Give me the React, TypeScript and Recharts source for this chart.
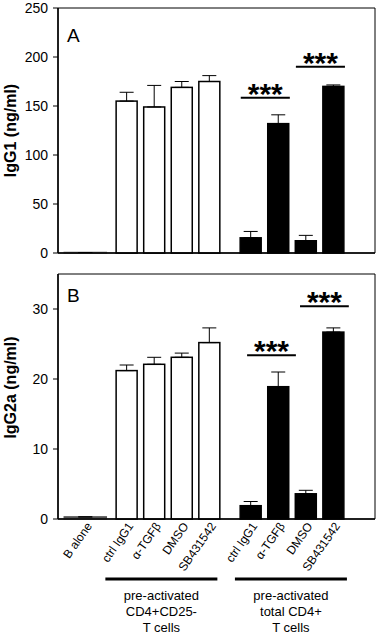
import React from 'react';
import {
  BarChart,
  Bar,
  XAxis,
  YAxis,
  Cell,
  ErrorBar,
  ReferenceArea,
  ReferenceLine,
  ReferenceDot,
  Label,
} from 'recharts';

const FONT = '"Liberation Sans", Arial, sans-serif';

/** categorías y su posición en el eje (con huecos entre grupos) */
const categories = ['B alone', 'ctrl IgG1', 'α-TGFβ', 'DMSO', 'SB431542', 'ctrl IgG1', 'α-TGFβ', 'DMSO', 'SB431542'];
const slots = [0, 1.5, 2.5, 3.5, 4.5, 6, 7, 8, 9];
const groupOf = ['b', 'w', 'w', 'w', 'w', 'k', 'k', 'k', 'k'];

/** valores */
const igg1 = [0.5, 155, 149, 169, 175, 15.5, 132, 12.5, 170];
const igg1Err = [0, 9, 22, 6, 6, 6.5, 9, 5.5, 1.5];
const igg2a = [0.3, 21.2, 22.1, 23.1, 25.2, 1.9, 18.9, 3.6, 26.7];
const igg2aErr = [0, 0.8, 1.0, 0.6, 2.1, 0.6, 2.1, 0.5, 0.6];

const igg1Ticks = [0, 50, 100, 150, 200, 250];
const igg2aTicks = [0, 10, 20, 30];

/** grupos bajo el eje */
const groupCenters = [2.75, 7.45];
const groupLines = [
  ['pre-activated', 'CD4+CD25-', 'T cells'],
  ['pre-activated', 'total CD4+', 'T cells'],
];

/** barras de significancia: [desde, hasta, altura] */
const sigA = [
  [5.63, 7.41, 158.5],
  [7.63, 9.41, 190],
];
const sigB = [
  [5.86, 7.63, 23.4],
  [7.78, 9.55, 30.4],
];

const DOMAIN: [number, number] = [-1, 10.5];

const makeRows = (vals: number[], errs: number[]) =>
  vals.map((v, i) => ({ slot: slots[i], name: categories[i], value: v, err: [0, errs[i]] }));

const rowsA = makeRows(igg1, igg1Err);
const rowsB = makeRows(igg2a, igg2aErr);

const fillFor = (g: string) => (g === 'k' ? '#000' : g === 'w' ? '#fff' : '#555');
const strokeFor = (g: string) => (g === 'b' ? '#555' : '#000');

const BarShape = (p: any) => {
  const w = p.index === 0 ? p.width * 2 : p.width;
  const x = p.x + p.width / 2 - w / 2;
  return (
    <rect
      x={x}
      y={p.y}
      width={w}
      height={Math.max(p.height, 0.5)}
      fill={p.fill}
      stroke={p.stroke}
      strokeWidth={1.5}
    />
  );
};

/** etiqueta girada bajo cada barra */
const slotLabel = (text: string) => (p: any) => {
  const tx = p.cx + 7;
  const ty = p.cy + 7;
  return (
    <text
      x={tx}
      y={ty}
      textAnchor="end"
      fontSize={12}
      fontFamily={FONT}
      fill="#000"
      transform={`rotate(-55, ${tx}, ${ty})`}
    >
      {text}
    </text>
  );
};

const GroupTick = (props: any) => {
  const { x, y, index } = props;
  const lines = groupLines[index] ?? [];
  return (
    <g>
      <line x1={x - 56} x2={x + 56} y1={y + 2} y2={y + 2} stroke="#000" strokeWidth={3} />
      {lines.map((t, k) => (
        <text key={k} x={x} y={y + 23 + k * 16} textAnchor="middle" fontSize={13} fontFamily={FONT} fill="#000">
          {t}
        </text>
      ))}
    </g>
  );
};

const Stars = (p: any) => (
  <text x={p.cx} y={p.cy + 6} textAnchor="middle" fontSize={30} fontWeight="bold" fontFamily={FONT} fill="#000">
    ***
  </text>
);

const yLabel = (text: string, shift: number) => (props: any) => {
  const vb = props.viewBox;
  const cy = vb.y + vb.height / 2 + shift;
  return (
    <text
      x={16}
      y={cy}
      textAnchor="middle"
      fontSize={16}
      fontWeight="bold"
      fontFamily={FONT}
      fill="#000"
      transform={`rotate(-90, 16, ${cy})`}
    >
      {text}
    </text>
  );
};

const panelLetter = (letter: string, dy: number) => (props: any) => {
  const vb = props.viewBox;
  return (
    <text x={vb.x + 9} y={vb.y + dy} fontSize={19} fontFamily={FONT} fill="#000">
      {letter}
    </text>
  );
};

const tickStyle = { fontSize: 14, fontFamily: FONT, fill: '#000' };

export default function App() {
  return (
    <div style={{ position: 'absolute', left: 0, top: 0, width: 378, height: 634, background: '#fff' }}>
      <div style={{ position: 'absolute', left: 0, top: 0 }}>
        <BarChart width={378} height={262} data={rowsA} margin={{ top: 8, right: 3, bottom: 8, left: 0 }}>
          <XAxis
            type="number"
            dataKey="slot"
            domain={DOMAIN}
            allowDataOverflow
            ticks={slots}
            tick={false}
            tickLine={false}
            height={1}
            axisLine={{ stroke: '#000', strokeWidth: 1.5 }}
          />
          <YAxis
            width={58}
            domain={[0, 250]}
            ticks={igg1Ticks}
            interval={0}
            tick={tickStyle}
            tickSize={5}
            tickMargin={5}
            tickLine={{ stroke: '#000' }}
            axisLine={{ stroke: '#000', strokeWidth: 1.5 }}
            label={{ content: yLabel('IgG1 (ng/ml)', 0) }}
          />
          <ReferenceArea x1={DOMAIN[0]} x2={DOMAIN[1]} y1={0} y2={250} fill="none" stroke="#000" strokeWidth={1}>
            <Label content={panelLetter('A', 34)} />
          </ReferenceArea>
          <Bar dataKey="value" barSize={21} shape={BarShape} isAnimationActive={false}>
            {rowsA.map((_, i) => (
              <Cell key={i} fill={fillFor(groupOf[i])} stroke={strokeFor(groupOf[i])} />
            ))}
            <ErrorBar dataKey="err" width={7} stroke="#000" strokeWidth={1} direction="y" />
          </Bar>
          {sigA.map(([a, b, v], i) => (
            <ReferenceLine key={`l${i}`} segment={[{ x: a, y: v }, { x: b, y: v }]} stroke="#000" strokeWidth={2} />
          ))}
          {sigA.map(([a, b, v], i) => (
            <ReferenceDot key={`d${i}`} x={(a + b) / 2} y={v} shape={Stars} />
          ))}
        </BarChart>
      </div>
      <div style={{ position: 'absolute', left: 0, top: 260 }}>
        <BarChart width={378} height={374} data={rowsB} margin={{ top: 14, right: 3, bottom: 0, left: 0 }}>
          <XAxis
            type="number"
            dataKey="slot"
            domain={DOMAIN}
            allowDataOverflow
            ticks={slots}
            tick={false}
            tickLine={false}
            height={58}
            axisLine={{ stroke: '#000', strokeWidth: 1.5 }}
          />
          <XAxis
            xAxisId="grp"
            type="number"
            dataKey="slot"
            domain={DOMAIN}
            allowDataOverflow
            ticks={groupCenters}
            interval={0}
            tick={GroupTick}
            tickLine={false}
            tickSize={0}
            tickMargin={0}
            axisLine={false}
            height={57}
          />
          <YAxis
            width={58}
            domain={[0, 35]}
            ticks={igg2aTicks}
            interval={0}
            tick={tickStyle}
            tickSize={5}
            tickMargin={5}
            tickLine={{ stroke: '#000' }}
            axisLine={{ stroke: '#000', strokeWidth: 1.5 }}
            label={{ content: yLabel('IgG2a (ng/ml)', -9) }}
          />
          <ReferenceArea x1={DOMAIN[0]} x2={DOMAIN[1]} y1={0} y2={35} fill="none" stroke="#000" strokeWidth={1}>
            <Label content={panelLetter('B', 28)} />
          </ReferenceArea>
          <Bar dataKey="value" barSize={21} shape={BarShape} isAnimationActive={false}>
            {rowsB.map((_, i) => (
              <Cell key={i} fill={fillFor(groupOf[i])} stroke={strokeFor(groupOf[i])} />
            ))}
            <ErrorBar dataKey="err" width={7} stroke="#000" strokeWidth={1} direction="y" />
          </Bar>
          {sigB.map(([a, b, v], i) => (
            <ReferenceLine key={`l${i}`} segment={[{ x: a, y: v }, { x: b, y: v }]} stroke="#000" strokeWidth={2} />
          ))}
          {sigB.map(([a, b, v], i) => (
            <ReferenceDot key={`d${i}`} x={(a + b) / 2} y={v} shape={Stars} />
          ))}
          {slots.map((s, i) => (
            <ReferenceDot key={`s${i}`} x={s} y={0} ifOverflow="visible" shape={slotLabel(categories[i])} />
          ))}
        </BarChart>
      </div>
    </div>
  );
}
